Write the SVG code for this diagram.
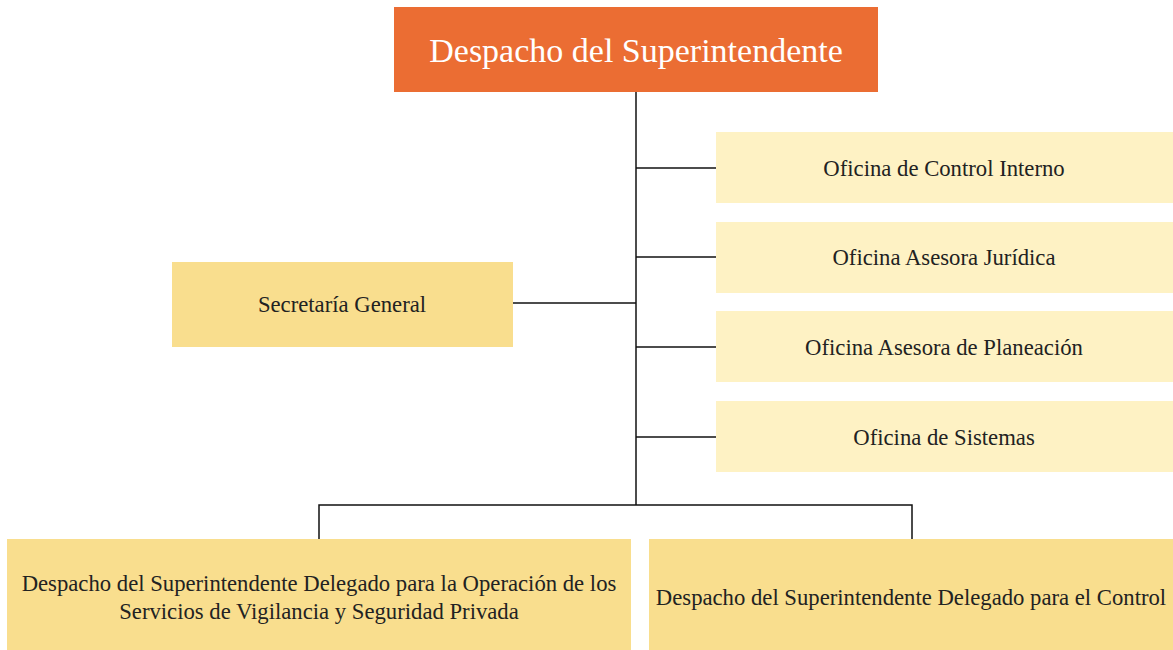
<svg xmlns="http://www.w3.org/2000/svg" width="1173" height="650" viewBox="0 0 1173 650">
<style>
.t{font-family:"Liberation Serif","Times New Roman",serif;font-size:22.7px;fill:#222;text-anchor:middle}
.lt{fill:#FEF2C4}
.dk{fill:#F9DE8E}
.c{stroke:#111;stroke-width:1.5;fill:none}
</style>
<rect width="1173" height="650" fill="#fff"/>
<g id="connectors">
<line class="c" x1="636" y1="92" x2="636" y2="505" stroke-width="2"/>
<line class="c" x1="636" y1="168" x2="716" y2="168"/>
<line class="c" x1="636" y1="257" x2="716" y2="257"/>
<line class="c" x1="636" y1="347" x2="716" y2="347"/>
<line class="c" x1="636" y1="437" x2="716" y2="437"/>
<line class="c" x1="513" y1="303" x2="636" y2="303"/>
<polyline class="c" points="319,539 319,505 912,505 912,539"/>
</g>
<g id="root">
<rect x="394" y="7" width="484" height="85" fill="#EB6D33"/>
<text x="636" y="62" class="t" style="font-size:34px;fill:#fff">Despacho del Superintendente</text>
</g>
<g id="control-interno">
<rect class="lt" x="716" y="132" width="457" height="71"/>
<text class="t" x="944" y="176">Oficina de Control Interno</text>
</g>
<g id="asesora-juridica">
<rect class="lt" x="716" y="222" width="457" height="71"/>
<text class="t" x="944" y="265">Oficina Asesora Jurídica</text>
</g>
<g id="asesora-planeacion">
<rect class="lt" x="716" y="311" width="457" height="71"/>
<text class="t" x="944" y="355">Oficina Asesora de Planeación</text>
</g>
<g id="sistemas">
<rect class="lt" x="716" y="401" width="457" height="71"/>
<text class="t" x="944" y="445">Oficina de Sistemas</text>
</g>
<g id="secretaria">
<rect class="dk" x="172" y="262" width="341" height="85"/>
<text class="t" x="342" y="312">Secretaría General</text>
</g>
<g id="delegado-operacion">
<rect class="dk" x="7" y="539" width="624" height="111"/>
<text class="t" x="319" y="591">Despacho del Superintendente Delegado para la Operación de los</text>
<text class="t" x="319" y="619">Servicios de Vigilancia y Seguridad Privada</text>
</g>
<g id="delegado-control">
<rect class="dk" x="649" y="539" width="524" height="111"/>
<text class="t" x="911" y="605">Despacho del Superintendente Delegado para el Control</text>
</g>
</svg>
